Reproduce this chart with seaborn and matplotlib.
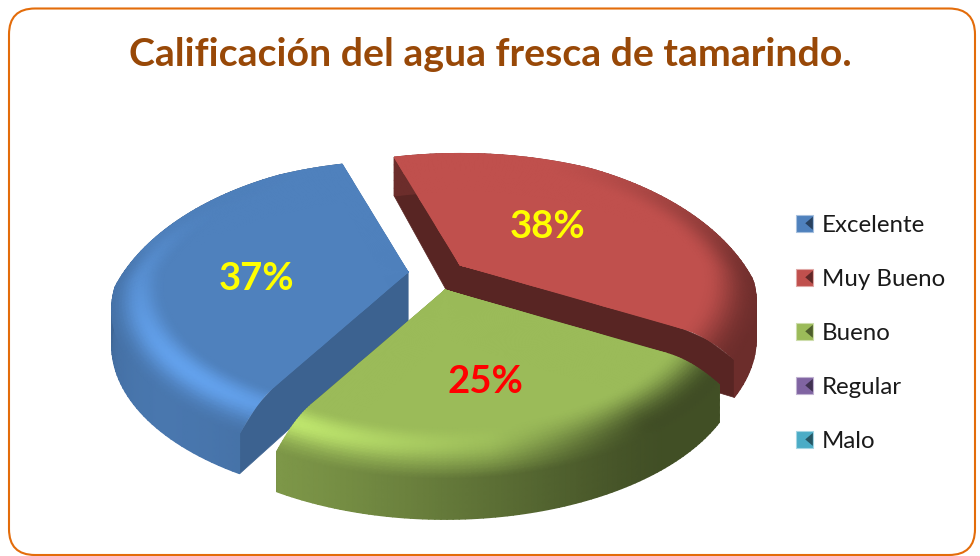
"""Calificación del agua fresca de tamarindo - 3D style pie built on a pixel canvas."""
import numpy as np
import matplotlib
matplotlib.use("Agg")
import matplotlib.pyplot as plt
import seaborn as sns
from matplotlib.legend_handler import HandlerBase
from matplotlib.patches import FancyBboxPatch, Patch, Polygon, Rectangle

# ----------------------------------------------------------------------
# Data
# ----------------------------------------------------------------------
TITLE = "Calificación del agua fresca de tamarindo."
CATEGORIES = ["Excelente", "Muy Bueno", "Bueno", "Regular", "Malo"]
VALUES = [37, 38, 25, 0, 0]
COLORS = ["#4F81BD", "#C0504D", "#9BBB59", "#8064A2", "#4BACC6"]
LABEL_COLORS = ["#FFFF00", "#FFFF00", "#FF0000"]

# ----------------------------------------------------------------------
# Style / geometry
# ----------------------------------------------------------------------
sns.set_theme(style="white")
plt.rcParams["font.family"] = ["Lato", "DejaVu Sans"]
PALETTE = sns.color_palette(COLORS)

START_ANGLE = 240.0
RADIUS = 293.0
TILT = 145.0 / 293.0   # y squash of the ground plane
PERSP_FRONT = 0.15     # foreshortening, near half
PERSP_BACK = 0.30      # foreshortening, far half
DEPTH = 50.0           # slice thickness, px
BEVEL_START = 0.82
BEVEL_DROP = 0.30
LIGHT_ANGLE = 222.0

APEX = [(408, 272), (460, 265), (445, 290)]
LABEL_POS = [(257, 279), (548, 227), (485, 382)]
GLOW = [0.30, 0.0, 0.34]
DARK = [0.05, 0.38, 0.62]
WALL_FLOOR = [0.5, 0.56, 0.42]
SPOKE_FACTOR = [0.76, 0.46, 0.5]
DRAW_ORDER = [1, 0, 2]


def project(apex, r, theta, z):
    """Ground polar position + height (0 top, 1 bottom) to canvas pixels."""
    x = r * np.cos(theta)
    y = r * np.sin(theta)
    d = 1 + np.where(y > 0, PERSP_BACK, PERSP_FRONT) * y
    return (apex[0] + RADIUS * x / d,
            apex[1] - RADIUS * TILT * y / d + DEPTH * z / d)


def rim_drop(r, theta):
    """How far the rounded rim falls, none on the far side."""
    u = np.clip((r - BEVEL_START) / (1 - BEVEL_START), 0, 1)
    return BEVEL_DROP * u ** 2 * (1 - np.clip(np.sin(theta) * 1.2, 0, 1))


def light(theta):
    return np.cos(theta - np.radians(LIGHT_ANGLE))


def wall_color(i, theta):
    t = np.clip(light(theta), 0, 1)
    f = WALL_FLOOR[i] + 0.42 * t ** 1.5
    return np.asarray(PALETTE[i])[None, None, :] * f[..., None]


def top_color(i, r, theta):
    base = np.asarray(PALETTE[i])
    u = np.clip((r - BEVEL_START) / (1 - BEVEL_START), 0, 1)
    t = light(theta)
    back = np.clip(np.sin(theta) * 1.1, 0, 1)
    glow = GLOW[i] * np.clip(t, 0, 1) ** 3 * np.sin(np.pi * u ** 1.1) ** 2
    dark = DARK[i] * np.clip((0.55 - t) / 0.5, 0, 1) * np.sin(np.pi * u / 2) ** 2 * (1 - back)
    c = base * (1 + glow[..., None])
    c = c * (1 - dark[..., None])
    # rim melts into the wall, only on the side facing the viewer
    blend = (u ** 3 * (1 - np.clip(np.sin(theta) * 1.5 + 0.6, 0, 1)))[..., None]
    return np.clip(c * (1 - blend) + wall_color(i, theta) * blend, 0, 1)


def spoke_outline(apex, theta):
    rr = np.linspace(0, 1, 12)
    tx, ty = project(apex, rr, theta, rim_drop(rr, theta))
    bx, by = project(apex, rr[::-1], theta, 1.0)
    return np.column_stack([np.r_[tx, bx], np.r_[ty, by]])


def draw_slice(ax, i, a_start, a_end):
    apex = APEX[i]
    thetas = np.radians(np.linspace(a_start, a_end, 90))

    # cut faces
    for th in (thetas[0], thetas[-1]):
        face = np.asarray(PALETTE[i]) * SPOKE_FACTOR[i]
        ax.add_patch(Polygon(spoke_outline(apex, th), closed=True,
                             facecolor=face, edgecolor=face, linewidth=0.5))

    # outer wall
    th_g, f_g = np.meshgrid(thetas, np.linspace(0, 1, 6))
    drop = rim_drop(1.0, th_g)
    X, Y = project(apex, np.ones_like(th_g), th_g, drop + (1 - drop) * f_g)
    ax.pcolormesh(X, Y, wall_color(i, th_g), shading="gouraud")

    # top surface with rounded rim
    rr = np.r_[np.linspace(0, BEVEL_START, 4), np.linspace(BEVEL_START, 1, 18)[1:]]
    th_g, r_g = np.meshgrid(thetas, rr)
    X, Y = project(apex, r_g, th_g, rim_drop(r_g, th_g))
    ax.pcolormesh(X, Y, top_color(i, r_g, th_g), shading="gouraud")


class SwatchHandler(HandlerBase):
    """Small bevelled square used in the legend."""

    def create_artists(self, legend, orig_handle, xdescent, ydescent,
                       width, height, fontsize, trans):
        base = np.asarray(orig_handle.get_facecolor()[:3])
        x0, y0 = -xdescent, -ydescent
        rect = Rectangle((x0, y0), width, height, facecolor=base,
                         edgecolor=(1 - (1 - base) * 0.5), linewidth=0.8,
                         transform=trans)
        tri = Polygon([(x0 + width, y0 + height * 0.9),
                       (x0 + width * 0.55, y0 + height * 0.52),
                       (x0 + width, y0 + height * 0.14)],
                      closed=True, facecolor=base * 0.5, edgecolor="none",
                      transform=trans)
        return [rect, tri]


# ----------------------------------------------------------------------
# Figure
# ----------------------------------------------------------------------
fig = plt.figure(figsize=(9.8, 5.56), dpi=100, facecolor="white")
ax = fig.add_axes([0, 0, 1, 1])
ax.set_xlim(0, 980)
ax.set_ylim(556, 0)
ax.axis("off")

ax.add_patch(FancyBboxPatch((9, 8.5), 966, 546.5,
                            boxstyle="round,pad=0,rounding_size=26",
                            facecolor="white", edgecolor="#E36C0A", linewidth=1.5))

ax.text(490, 54, TITLE, ha="center", va="center", fontsize=28.3,
        fontweight="bold", color="#984807")

# slices run clockwise from the start angle
edges = START_ANGLE - np.cumsum([0] + VALUES) / sum(VALUES) * 360
for i in DRAW_ORDER:
    draw_slice(ax, i, edges[i], edges[i + 1])

for i, (x, y) in enumerate(LABEL_POS):
    ax.text(x, y, f"{VALUES[i]}%", ha="center", va="center", fontsize=27.5,
            fontweight="bold", color=LABEL_COLORS[i])

handles = [Patch(facecolor=c, label=n) for c, n in zip(PALETTE, CATEGORIES)]
ax.legend(handles=handles, loc="upper left", bbox_to_anchor=(796, 215),
          bbox_transform=ax.transData, frameon=False, fontsize=17.3,
          handler_map={Patch: SwatchHandler()}, handlelength=0.7,
          handleheight=0.72, handletextpad=0.37, labelspacing=1.375,
          borderpad=0, borderaxespad=0, labelcolor="#1A1A1A")

fig.savefig("out.png", dpi=100, facecolor="white")
